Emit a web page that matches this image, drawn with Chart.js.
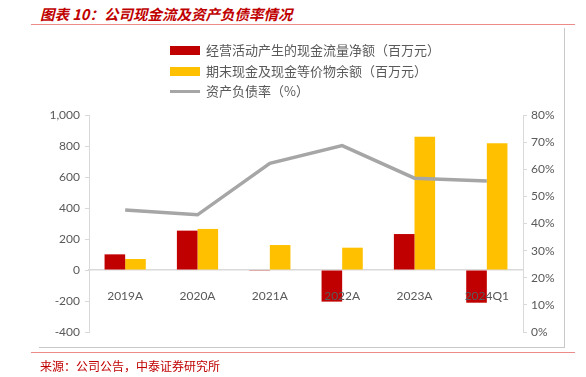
<!DOCTYPE html>
<html>
<head>
<meta charset="utf-8">
<script src="https://cdn.jsdelivr.net/npm/chart.js@4"></script>
<style>
  body { margin: 0; background: #fff; }
  #wrap { position: relative; width: 586px; height: 377px; overflow: hidden; font-family: "Noto Sans CJK SC", sans-serif; }
  #chart { position: absolute; left: 0; top: 0; }
  .title { position: absolute; left: 40px; top: 3px; font-size: 14.5px; font-weight: bold; font-style: italic; color: #c00000; }
  .hline { position: absolute; height: 1px; }
  .vline { position: absolute; width: 1px; }
  .legend { position: absolute; left: 170px; top: 40px; font-size: 13px; color: #595959; }
  .legend div { height: 20.5px; line-height: 20.5px; position: relative; padding-left: 36px; white-space: nowrap; }
  .legend span { position: absolute; left: 0; }
  .source { position: absolute; left: 40px; top: 357px; font-size: 12px; color: #c00000; }
</style>
</head>
<body>
<div id="wrap">
  <div class="title">图表 10：公司现金流及资产负债率情况</div>
  <div class="hline" style="left:31px; top:24px; width:544px; background:#ee8a8a;"></div>
  <div class="vline" style="left:564px; top:28px; height:320px; background:#c8c8c8;"></div>
  <div class="hline" style="left:39px; top:347px; width:526px; background:#c8c8c8;"></div>
  <div class="hline" style="left:31px; top:352px; width:544px; background:#ee8a8a;"></div>
  <canvas id="chart" width="586" height="377"></canvas>
  <div class="legend" id="legend"></div>
  <div class="source">来源：公司公告，中泰证券研究所</div>
</div>
<script>
// data
const categories = ['2019A', '2020A', '2021A', '2022A', '2023A', '2024Q1'];
const operatingCashFlow = [101, 254, -5, -204, 232, -211];
const cashAtPeriodEnd = [71, 265, 161, 144, 860, 817];
const debtRatio = [45.0, 43.2, 62.2, 68.7, 56.7, 55.7];
const seriesNames = ['经营活动产生的现金流量净额（百万元）', '期末现金及现金等价物余额（百万元）', '资产负债率（%）'];

const RED = '#c00000';
const YELLOW = '#ffc000';
const GREY = '#a6a6a6';
const AXIS = '#d9d9d9';

// legend
const legend = document.getElementById('legend');
[[RED, 'box'], [YELLOW, 'box'], [GREY, 'line']].forEach(function (item, i) {
  const row = document.createElement('div');
  const mark = document.createElement('span');
  if (item[1] === 'box') {
    mark.style.cssText = 'top:6px;width:30px;height:9px;background:' + item[0];
  } else {
    mark.style.cssText = 'top:9px;width:30px;height:3px;background:' + item[0];
  }
  row.appendChild(mark);
  row.appendChild(document.createTextNode(seriesNames[i]));
  legend.appendChild(row);
});

Chart.defaults.font.family = 'Lato, "Noto Sans", sans-serif';
Chart.defaults.font.size = 12;
Chart.defaults.color = '#595959';

const ctx = document.getElementById('chart').getContext('2d');
new Chart(ctx, {
  type: 'bar',
  data: {
    labels: categories,
    datasets: [
      {
        type: 'line',
        label: seriesNames[2],
        data: debtRatio,
        yAxisID: 'y1',
        borderColor: GREY,
        borderWidth: 3.5,
        pointRadius: 0,
        tension: 0,
        fill: false,
        order: 0
      },
      {
        label: seriesNames[0],
        data: operatingCashFlow,
        backgroundColor: RED,
        yAxisID: 'y',
        barPercentage: 1,
        categoryPercentage: 0.57,
        order: 1
      },
      {
        label: seriesNames[1],
        data: cashAtPeriodEnd,
        backgroundColor: YELLOW,
        yAxisID: 'y',
        barPercentage: 1,
        categoryPercentage: 0.57,
        order: 1
      }
    ]
  },
  options: {
    responsive: false,
    animation: false,
    layout: { padding: { top: 115, bottom: 45, left: 0, right: 0 } },
    plugins: { legend: { display: false }, tooltip: { enabled: false } },
    scales: {
      x: {
        position: { y: 0 },
        grid: { display: false },
        border: { display: true, color: AXIS, width: 1.5 },
        // labels sit on top of the negative bars, as in the original
        ticks: { padding: 11, color: '#595959', z: 1 }
      },
      y: {
        position: 'left',
        min: -400,
        max: 1000,
        afterFit: function (s) { s.width = 89; },
        grid: { display: true, drawOnChartArea: false, drawTicks: true, tickLength: 4, color: AXIS },
        border: { display: true, color: AXIS },
        ticks: {
          stepSize: 200,
          padding: 5,
          callback: function (value) {
            return value.toLocaleString('en-US');
          }
        }
      },
      y1: {
        position: 'right',
        min: 0,
        max: 80,
        afterFit: function (s) { s.width = 63; },
        grid: { display: true, drawOnChartArea: false, drawTicks: true, tickLength: 4, color: AXIS },
        border: { display: true, color: AXIS },
        ticks: {
          stepSize: 10,
          padding: 4,
          callback: function (value) {
            return value + '%';
          }
        }
      }
    }
  }
});
</script>
</body>
</html>
